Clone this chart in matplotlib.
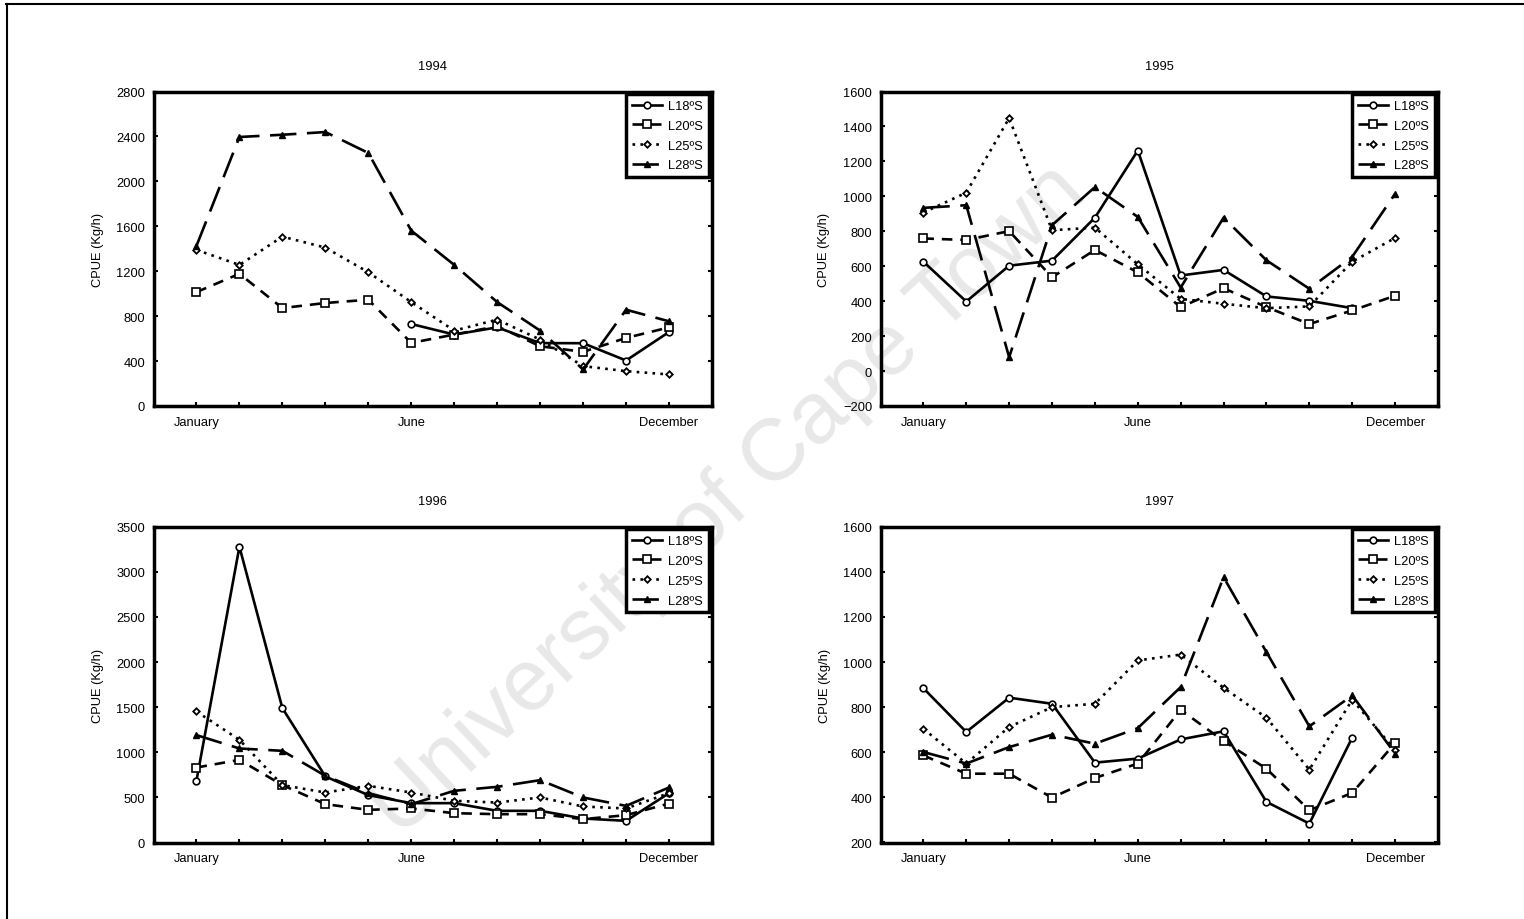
import numpy as np
import matplotlib
matplotlib.use("Agg")
import matplotlib.pyplot as plt
from matplotlib.lines import Line2D

plt.rcParams['font.family'] = ['Liberation Sans', 'DejaVu Sans']

months = np.arange(1, 13)
month_labels = ['January', '', '', '', '', 'June', '', '', '', '', '', 'December']
series = ['L18ºS', 'L20ºS', 'L25ºS', 'L28ºS']
nan = np.nan

# CPUE (Kg/h) per month
cpue_1994 = {
    'L18ºS': [nan, nan, nan, nan, nan, 730, 636, 700, 560, 559, 405, 659],
    'L20ºS': [1014, 1177, 872, 917, 946, 562, 636, 710, 532, 482, 606, 700],
    'L25ºS': [1390, 1256, 1508, 1410, 1191, 925, 671, 769, 591, 355, 310, 281],
    'L28ºS': [1425, 2395, 2415, 2439, 2253, 1561, 1256, 925, 671, 325, 857, 754],
}
cpue_1995 = {
    'L18ºS': [626, 398, 603, 632, 878, 1262, 547, 579, 427, 402, 360, nan],
    'L20ºS': [759, 750, 801, 537, 693, 565, 366, 474, 366, 269, 347, 431],
    'L25ºS': [907, 1021, 1448, 806, 821, 611, 413, 385, 360, 370, 626, 762],
    'L28ºS': [934, 949, 79, 835, 1053, 882, 478, 878, 634, 471, 654, 1015],
}
cpue_1996 = {
    'L18ºS': [684, 3278, 1489, 732, 525, 436, 436, 351, 351, 266, 240, 547],
    'L20ºS': [831, 916, 636, 425, 362, 377, 325, 314, 314, 259, 303, 432],
    'L25ºS': [1452, 1138, 636, 554, 628, 554, 462, 443, 499, 399, 377, 547],
    'L28ºS': [1190, 1042, 1016, 739, 547, 425, 573, 617, 691, 499, 406, 610],
}
cpue_1997 = {
    'L18ºS': [884, 690, 842, 815, 554, 572, 657, 693, 380, 284, 665, nan],
    'L20ºS': [586, 505, 505, 399, 486, 550, 788, 650, 527, 343, 420, 641],
    'L25ºS': [704, 550, 712, 800, 815, 1007, 1033, 886, 753, 523, 833, 610],
    'L28ºS': [601, 550, 623, 678, 638, 707, 889, 1376, 1044, 715, 852, 594],
}

years = ['1994', '1995', '1996', '1997']
datasets = [cpue_1994, cpue_1995, cpue_1996, cpue_1997]
ylims = [(0, 2800), (-200, 1600), (0, 3500), (200, 1600)]
ysteps = [400, 200, 500, 200]

styles = {
    'L18ºS': dict(linestyle='-', marker='o', ms=4.8, mfc='white', mew=1.2),
    'L20ºS': dict(linestyle=(0, (4, 3)), marker='s', ms=5.2, mfc='white', mew=1.2),
    'L25ºS': dict(linestyle=(0, (1, 2)), marker='D', ms=3.3, mfc='white', mew=1.3),
    'L28ºS': dict(linestyle=(0, (10, 4)), marker='^', ms=4.8, mfc='black', mew=1.0),
}

W, H = 1524, 920
fig = plt.figure(figsize=(W / 100, H / 100), dpi=100)

# axes boxes in pixels: left, top, right, bottom
boxes = [(153.5, 92.5, 712, 407), (880.5, 92.5, 1438, 407),
         (153.5, 527.7, 712, 843.5), (880.5, 527.7, 1438, 843.5)]

# watermark
fig.text(0.478, 0.455, 'University of Cape Town', fontsize=63, color='#e8e8e8',
         rotation=43, ha='center', va='center', zorder=-1)

fs = 9.3
for year, data, ylim, step, box in zip(years, datasets, ylims, ysteps, boxes):
    l, t, r, b = box
    ax = fig.add_axes([l / W, 1 - b / H, (r - l) / W, (b - t) / H])
    ax.set_facecolor('none')
    for name in series:
        ax.plot(months, data[name], color='black', lw=1.9, mec='black',
                label=name, **styles[name])
    ax.set_xlim(0, 13)
    ax.set_ylim(*ylim)
    ax.set_yticks(np.arange(ylim[0], ylim[1] + 1, step))
    ax.set_xticks(months)
    ax.set_xticklabels(month_labels)
    ax.tick_params(direction='in', length=3, width=1.5, labelsize=fs,
                   right=True, top=False)
    ax.tick_params(axis='x', pad=7)
    ax.tick_params(axis='y', pad=6)
    for sp in ax.spines.values():
        sp.set_linewidth(2.5)
    ax.set_title(year, fontsize=fs, pad=16)
    ax.set_ylabel('CPUE (Kg/h)', fontsize=fs, labelpad=9)
    leg = ax.legend(loc='upper right', bbox_to_anchor=(1.006, 1.012),
                    fontsize=fs, handlelength=2.3, handletextpad=0.5,
                    labelspacing=0.6, borderpad=0.45, fancybox=False,
                    framealpha=1, edgecolor='black', numpoints=1)
    leg.get_frame().set_linewidth(2.5)

# border lines along the top and the left of the page
fig.add_artist(Line2D([6 / W, 1], [1 - 5 / H, 1 - 5 / H], color='black', lw=1.5))
fig.add_artist(Line2D([6.5 / W, 6.5 / W], [0, 1 - 5 / H], color='black', lw=1.5))

fig.savefig('out.png', dpi=100)
